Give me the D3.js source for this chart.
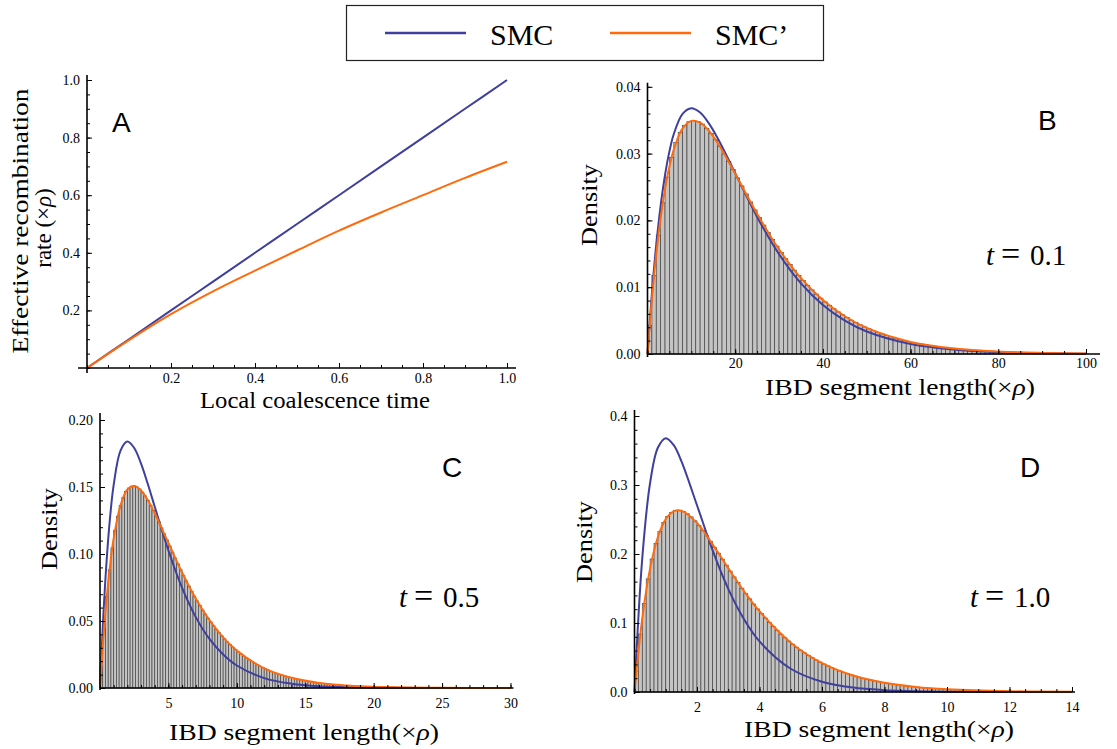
<!DOCTYPE html>
<html lang="en">
<head>
<meta charset="utf-8">
<title>SMC vs SMC'</title>
<script src="https://d3js.org/d3.v7.min.js"></script>
<style>
body { margin: 0; background: #fff; }
.bar { fill: #c4c4c4; stroke: #454545; stroke-width: 0.7; }
.smc { fill: none; stroke: #3f3f9d; stroke-width: 2; }
.smcp { fill: none; stroke: #ff6a0d; stroke-width: 2; }
.axisline { stroke: #000; stroke-width: 1.6; }
</style>
</head>
<body>
<script>
// ---- data ----
// A: effective recombination rate vs local coalescence time
const timeA = [0, 0.1, 0.2, 0.3, 0.4, 0.5, 0.6, 0.7, 0.8, 0.9, 1.0]
const smcA  = [0, 0.1, 0.2, 0.3, 0.4, 0.5, 0.6, 0.7, 0.8, 0.9, 1.0]
const smcpA = [0, 0.097, 0.187, 0.266, 0.338, 0.408, 0.477, 0.540, 0.600, 0.660, 0.716]

// B: t = 0.1, histogram bins of width 1
const binB = 1
const barsB = [0.00430,0.01174,0.01779,0.02265,0.02649,0.02944,0.03164,0.03319,0.03421,0.03477,
  0.03495,0.03481,0.03441,0.03379,0.03300,0.03208,0.03106,0.02996,0.02880,0.02760,
  0.02638,0.02517,0.02396,0.02276,0.02157,0.02042,0.01930,0.01821,0.01716,0.01615,
  0.01518,0.01426,0.01338,0.01254,0.01175,0.01099,0.01027,0.00960,0.00896,0.00836,
  0.00780,0.00727,0.00677,0.00630,0.00586,0.00545,0.00506,0.00470,0.00437,0.00405,
  0.00376,0.00349,0.00323,0.00300,0.00278,0.00257,0.00238,0.00220,0.00204,0.00188,
  0.00174,0.00161,0.00149,0.00138,0.00127,0.00117,0.00108,0.00100,0.00092,0.00085,
  0.00079,0.00072,0.00067,0.00062,0.00057,0.00052,0.00048,0.00044,0.00041,0.00038,
  0.00035,0.00032,0.00029,0.00027,0.00025,0.00023,0.00021,0.00019,0.00018,0.00016,
  0.00015,0.00014,0.00013,0.00012,0.00011,0.00010,0.00009,0.00008,0.00008,0.00007]
const lenB  = [0,1,2,3,4,5,6,8,10,12,14,16,18,20,25,30,35,40,45,50,60,70,80,90,100]
const smcB  = [0,0.00905,0.01637,0.02222,0.02681,0.03033,0.03293,0.03595,0.03679,0.03614,0.03452,0.03230,0.02975,
  0.02707,0.02052,0.01494,0.01057,0.00733,0.00500,0.00337,0.00149,0.00064,0.00027,0.00011,0.00005]
const smcpB = [0,0.00821,0.01493,0.02036,0.02469,0.02806,0.03062,0.03377,0.03490,0.03463,0.03342,0.03158,0.02939,
  0.02700,0.02099,0.01566,0.01136,0.00808,0.00565,0.00390,0.00181,0.00082,0.00036,0.00016,0.00007]

// C: t = 0.5, bins of width 0.2
const binC = 0.2
const barsC = [0.0161,0.0446,0.0685,0.0883,0.1046,0.1178,0.1282,0.1363,0.1423,0.1466,
  0.1492,0.1506,0.1508,0.1500,0.1485,0.1462,0.1434,0.1401,0.1364,0.1325,
  0.1283,0.1240,0.1195,0.1150,0.1105,0.1059,0.1014,0.0970,0.0926,0.0883,
  0.0841,0.0800,0.0760,0.0722,0.0685,0.0650,0.0615,0.0582,0.0551,0.0521,
  0.0492,0.0464,0.0438,0.0413,0.0389,0.0367,0.0345,0.0325,0.0306,0.0287,
  0.0270,0.0254,0.0238,0.0224,0.0210,0.0197,0.0185,0.0173,0.0162,0.0152,
  0.0143,0.0134,0.0125,0.0117,0.0110,0.0102,0.0096,0.0090,0.0084,0.0078,
  0.0073,0.0069,0.0064,0.0060,0.0056,0.0052,0.0049,0.0045,0.0043,0.0040,
  0.0037,0.0034,0.0032,0.0030,0.0028,0.0026,0.0024,0.0023,0.0021,0.0020,
  0.0018,0.0017,0.0016,0.0015,0.0014,0.0013,0.0012,0.0011,0.0011,0.0010,
  0.0009,0.0009,0.0008,0.0008,0.0007,0.0007,0.0006,0.0006,0.0005,0.0005]
const lenC  = [0,0.25,0.5,0.75,1,1.5,2,2.5,3,3.5,4,5,6,7,8,9,10,12,14,16,18,20,25,30]
const smcC  = [0,0.0552,0.0974,0.1289,0.1516,0.1772,0.1839,0.1791,0.1674,0.1520,0.1353,0.1026,
  0.0747,0.0529,0.0366,0.0250,0.0168,0.0074,0.0032,0.0013,0.0006,0.0002,0.00002,0]
const smcpC = [0,0.0379,0.0685,0.0927,0.1116,0.1363,0.1481,0.1508,0.1474,0.1401,0.1304,0.1082,
  0.0862,0.0667,0.0506,0.0378,0.0279,0.0147,0.0076,0.0038,0.0019,0.0009,0.00015,0.00002]

// D: t = 1.0, bins of width 0.125
const binD = 0.125
const barsD = [0.0306,0.0840,0.1281,0.1640,0.1928,0.2154,0.2328,0.2456,0.2546,0.2601,
  0.2629,0.2633,0.2617,0.2584,0.2538,0.2481,0.2415,0.2342,0.2264,0.2182,
  0.2097,0.2011,0.1925,0.1838,0.1752,0.1668,0.1585,0.1504,0.1425,0.1349,
  0.1275,0.1204,0.1136,0.1071,0.1008,0.0949,0.0892,0.0838,0.0787,0.0738,
  0.0692,0.0648,0.0607,0.0568,0.0531,0.0497,0.0464,0.0434,0.0405,0.0378,
  0.0352,0.0329,0.0306,0.0286,0.0266,0.0248,0.0231,0.0215,0.0200,0.0186,
  0.0173,0.0160,0.0149,0.0138,0.0129,0.0119,0.0111,0.0103,0.0095,0.0089,
  0.0082,0.0076,0.0071,0.0065,0.0061,0.0056,0.0052,0.0048,0.0045,0.0041,
  0.0038,0.0035,0.0033,0.0030,0.0028,0.0026,0.0024,0.0022,0.0021,0.0019,
  0.0018,0.0016,0.0015,0.0014,0.0013,0.0012]
const lenD  = [0,0.25,0.5,0.75,1,1.25,1.5,2,2.5,3,3.5,4,5,6,7,8,9,10,12,14]
const smcD  = [0,0.1947,0.3033,0.3543,0.3679,0.3581,0.3347,0.2707,0.2052,0.1494,0.1057,0.0733,
  0.0337,0.0149,0.0064,0.0027,0.0011,0.00045,0.00007,0.00001]
const smcpD = [0,0.1072,0.1792,0.2247,0.2505,0.2619,0.2627,0.2449,0.2140,0.1795,0.1464,0.1170,
  0.0715,0.0419,0.0239,0.0133,0.0073,0.0040,0.0011,0.0003]

// tick marks
const xTicksA = [0.2, 0.4, 0.6, 0.8, 1.0], xLabelsA = ["0.2", "0.4", "0.6", "0.8", "1.0"]
const yTicksA = [0.2, 0.4, 0.6, 0.8, 1.0], yLabelsA = ["0.2", "0.4", "0.6", "0.8", "1.0"]
const xTicksB = [20, 40, 60, 80, 100], xLabelsB = ["20", "40", "60", "80", "100"]
const yTicksB = [0, 0.01, 0.02, 0.03, 0.04], yLabelsB = ["0.00", "0.01", "0.02", "0.03", "0.04"]
const xTicksC = [5, 10, 15, 20, 25, 30], xLabelsC = ["5", "10", "15", "20", "25", "30"]
const yTicksC = [0, 0.05, 0.10, 0.15, 0.20], yLabelsC = ["0.00", "0.05", "0.10", "0.15", "0.20"]
const xTicksD = [2, 4, 6, 8, 10, 12, 14], xLabelsD = ["2", "4", "6", "8", "10", "12", "14"]
const yTicksD = [0, 0.1, 0.2, 0.3, 0.4], yLabelsD = ["0.0", "0.1", "0.2", "0.3", "0.4"]

const width = 1117, height = 749
const SERIF = '"Liberation Serif", "Times New Roman", serif'
const SANS = '"Liberation Sans", Arial, sans-serif'

const svg = d3.select("body").append("svg")
    .attr("width", width)
    .attr("height", height)
svg.append("rect").attr("width", width).attr("height", height).attr("fill", "#fff")

function drawPanel(p) {
    const x = d3.scaleLinear().domain(p.xDomain).range(p.xRange)
    const y = d3.scaleLinear().domain(p.yDomain).range(p.yRange)
    const g = svg.append("g")

    if (p.bars) {
        g.selectAll("rect.bar")
            .data(p.bars)
            .enter()
            .append("rect")
            .attr("class", "bar")
            .attr("x", (d, i) => x(i * p.bin))
            .attr("width", x(p.bin) - x(0))
            .attr("y", d => y(d))
            .attr("height", d => y(0) - y(d))
    }

    const line = d3.line()
        .x(d => x(d[0]))
        .y(d => y(d[1]))
        .curve(d3.curveCatmullRom)
    g.append("path").datum(d3.zip(p.len, p.smc)).attr("class", "smc").attr("d", line)
    g.append("path").datum(d3.zip(p.len, p.smcp)).attr("class", "smcp").attr("d", line)

    // axis lines (a bit past the origin, like the original)
    g.append("line").attr("class", "axisline")
        .attr("x1", p.xRange[0] - p.xExt[0]).attr("x2", p.xRange[1] + p.xExt[1])
        .attr("y1", y(0)).attr("y2", y(0))
    g.append("line").attr("class", "axisline")
        .attr("x1", x(0)).attr("x2", x(0))
        .attr("y1", p.yRange[0] + p.yExt[0]).attr("y2", p.yRange[1] - p.yExt[1])

    // minor ticks
    g.append("g")
        .attr("transform", `translate(0,${y(0)})`)
        .call(d3.axisBottom(x).tickValues(d3.range(0, p.xDomain[1] + 1e-9, p.xMinor)).tickSize(-3).tickFormat(""))
        .call(s => s.select(".domain").remove())
    g.append("g")
        .attr("transform", `translate(${x(0)},0)`)
        .call(d3.axisLeft(y).tickValues(d3.range(0, p.yDomain[1] + 1e-9, p.yMinor)).tickSize(-3).tickFormat(""))
        .call(s => s.select(".domain").remove())

    // major ticks with labels
    g.append("g")
        .attr("transform", `translate(0,${y(0)})`)
        .call(d3.axisBottom(x).tickValues(p.xTicks).tickSize(-5).tickPadding(p.xPad)
            .tickFormat((d, i) => p.xLabels[i]))
        .call(s => s.select(".domain").remove())
    g.append("g")
        .attr("transform", `translate(${x(0)},0)`)
        .call(d3.axisLeft(y).tickValues(p.yTicks).tickSize(-5).tickPadding(7)
            .tickFormat((d, i) => p.yLabels[i]))
        .call(s => s.select(".domain").remove())
    g.selectAll(".tick line").attr("stroke", "#000")
    g.selectAll(".tick text")
        .style("font-family", SERIF)
        .style("font-size", "14px")
        .attr("fill", "#000")
}

drawPanel({ xDomain: [0, 1], xRange: [87, 507], yDomain: [0, 1], yRange: [368, 80],
    xExt: [9, 9], yExt: [5, 5], xMinor: 0.05, yMinor: 0.05, xPad: 5,
    len: timeA, smc: smcA, smcp: smcpA,
    xTicks: xTicksA, xLabels: xLabelsA, yTicks: yTicksA, yLabels: yLabelsA })

drawPanel({ xDomain: [0, 100], xRange: [647.5, 1086], yDomain: [0, 0.04], yRange: [354, 86.8],
    xExt: [0, 14], yExt: [3, 4], xMinor: 5, yMinor: 0.002, xPad: 4,
    bars: barsB, bin: binB, len: lenB, smc: smcB, smcp: smcpB,
    xTicks: xTicksB, xLabels: xLabelsB, yTicks: yTicksB, yLabels: yLabelsB })

drawPanel({ xDomain: [0, 30], xRange: [100, 510.5], yDomain: [0, 0.2], yRange: [688, 420],
    xExt: [0, 3], yExt: [2, 7], xMinor: 1, yMinor: 0.01, xPad: 10,
    bars: barsC, bin: binC, len: lenC, smc: smcC, smcp: smcpC,
    xTicks: xTicksC, xLabels: xLabelsC, yTicks: yTicksC, yLabels: yLabelsC })

drawPanel({ xDomain: [0, 14], xRange: [634.5, 1072], yDomain: [0, 0.4], yRange: [692, 416],
    xExt: [0, 3], yExt: [2, 6], xMinor: 0.5, yMinor: 0.02, xPad: 10,
    bars: barsD, bin: binD, len: lenD, smc: smcD, smcp: smcpD,
    xTicks: xTicksD, xLabels: xLabelsD, yTicks: yTicksD, yLabels: yLabelsD })

// axis titles
function serifText(sel, size) {
    return sel.append("text")
        .style("font-family", SERIF)
        .style("font-size", size + "px")
        .attr("fill", "#000")
}
function rhoLabel(sel, before) {
    sel.append("tspan").text(before + "(×")
    sel.append("tspan").style("font-style", "italic").text("ρ")
    sel.append("tspan").text(")")
}
serifText(svg, 23).attr("text-anchor", "middle")
    .attr("transform", "translate(28,221) rotate(-90)")
    .attr("textLength", 265).attr("lengthAdjust", "spacingAndGlyphs")
    .text("Effective recombination")
serifText(svg, 23).attr("text-anchor", "middle")
    .attr("transform", "translate(51,228) rotate(-90)")
    .call(rhoLabel, "rate ")
serifText(svg, 23).attr("text-anchor", "middle")
    .attr("x", 315).attr("y", 408)
    .attr("textLength", 230).attr("lengthAdjust", "spacingAndGlyphs")
    .text("Local coalescence time")

const ibd = [[900, 395], [304, 740], [879, 737]]
ibd.forEach(([cx, cy]) => {
    serifText(svg, 23).attr("text-anchor", "middle")
        .attr("x", cx).attr("y", cy)
        .attr("textLength", 270).attr("lengthAdjust", "spacingAndGlyphs")
        .call(rhoLabel, "IBD segment length")
})
const dens = [[597, 205], [57, 529], [592, 542]]
dens.forEach(([cx, cy]) => {
    serifText(svg, 23).attr("text-anchor", "middle")
        .attr("transform", `translate(${cx},${cy}) rotate(-90)`)
        .attr("textLength", 82).attr("lengthAdjust", "spacingAndGlyphs")
        .text("Density")
})

// panel letters and t values
const letters = [["A", 112, 132], ["B", 1038, 130], ["C", 442, 477], ["D", 1020, 477]]
letters.forEach(([s, lx, ly]) => {
    svg.append("text").attr("x", lx).attr("y", ly)
        .style("font-family", SANS).style("font-size", "28px").attr("fill", "#000")
        .text(s)
})
const tvals = [["0.1", 986, 265], ["0.5", 399, 607], ["1.0", 970, 607]]
tvals.forEach(([s, tx, ty]) => {
    const t = serifText(svg, 29).attr("y", ty)
    t.append("tspan").attr("x", tx).style("font-style", "italic").text("t")
    t.append("tspan").attr("x", tx + 15).style("font-size", "34px").text("=")
    t.append("tspan").attr("x", tx + 44).text(s)
})

// legend
const legend = svg.append("g")
legend.append("rect").attr("x", 346.5).attr("y", 5.5).attr("width", 477).attr("height", 55)
    .attr("fill", "none").attr("stroke", "#222").attr("stroke-width", 1.2)
const legendItems = [["SMC", "smc", 385], ["SMC’", "smcp", 610]]
legendItems.forEach(([name, cls, lx]) => {
    legend.append("line").attr("class", cls).attr("x1", lx).attr("x2", lx + 81)
        .attr("y1", 33).attr("y2", 33).style("stroke-width", 2.5)
    serifText(legend, 30).attr("x", lx + 105).attr("y", 45).text(name)
})
</script>
</body>
</html>
